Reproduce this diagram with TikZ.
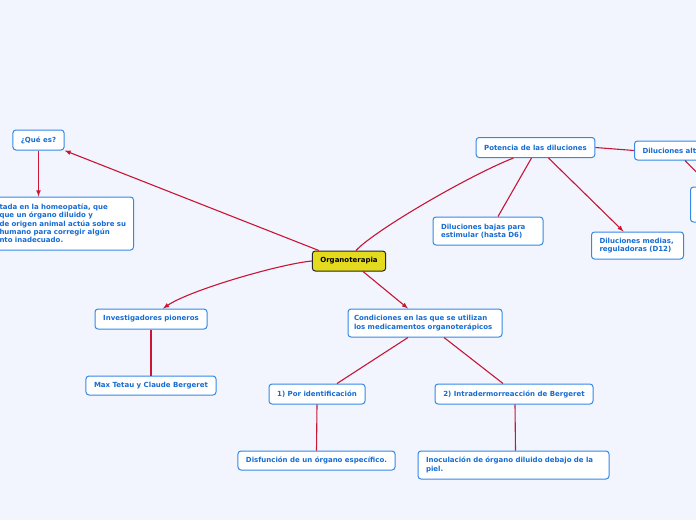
\documentclass[tikz,border=0pt]{standalone}
\usepackage{fontspec}
\setmainfont{DejaVu Sans}
\usepackage{xcolor}
\usepackage{tikz}
\usetikzlibrary{calc, positioning}

\definecolor{fondo}{RGB}{242,245,254}
\definecolor{borde}{RGB}{52,136,230}
\definecolor{texto}{RGB}{22,108,210}
\definecolor{rama}{RGB}{200,22,52}
\definecolor{raizfondo}{RGB}{228,218,30}

\begin{document}
\begin{tikzpicture}[>=latex, x=1pt, y=-1pt,
    idea/.style={draw=borde, fill=white, rounded corners=3pt, line width=1pt,
        text=texto, font=\bfseries\fontsize{7}{8.3}\selectfont,
        inner xsep=8pt, inner ysep=4pt, align=left, minimum height=20pt},
    raiz/.style={idea, fill=raizfondo, draw=black!85, text=black},
    enlace/.style={draw=rama, line width=1.1pt}]
    % 1. Fondo y recorte
    \useasboundingbox (0,0) rectangle (696,520);
    \fill[fondo] (0,0) rectangle (696,520);
    \clip (0,0) rectangle (696,520);

    % 2. Nodos
    \node[raiz, minimum width=72pt] (org) at (349,261) {Organoterapia};
    \node[idea] (quees) at (38.5,140) {¿Qué es?};
    \node[idea, anchor=west, text width=131pt, inner xsep=3pt, minimum height=53pt]
        (defin) at (-4,223.5)
        {tada en la homeopatía, que\\que un órgano diluido y\\de origen animal actúa sobre su\\humano para corregir algún\\nto inadecuado.};
    \node[idea, minimum width=117pt] (poten) at (535.5,147.5) {Potencia de las diluciones};
    \node[idea, anchor=west, text width=70pt, minimum height=19pt] (altas) at (634,150.5) {Diluciones alt};
    \node[idea, anchor=west, minimum width=40pt, minimum height=35pt] (oculto) at (690,204.5) {};
    \node[idea, text width=94pt, minimum height=28pt] (bajas) at (488,231) {Diluciones bajas para\\estimular (hasta D6)};
    \node[idea, text width=76pt, minimum height=27pt] (medias) at (637.5,245.5) {Diluciones medias,\\reguladoras (D12)};
    \node[idea, minimum width=112pt] (invest) at (151,319) {Investigadores pioneros};
    \node[idea, minimum width=128pt, minimum height=19pt] (max) at (151,385.5) {Max Tetau y Claude Bergeret};
    \node[idea, text width=142pt, inner xsep=6pt, minimum height=28pt] (condic) at (425,323) {Condiciones en las que se utilizan\\los medicamentos organoterápicos};
    \node[idea, minimum width=96pt] (ident) at (317,394) {1) Por identificación};
    \node[idea, minimum width=158pt] (intra) at (514,394) {2) Intradermorreacción de Bergeret};
    \node[idea, minimum width=155pt, minimum height=19pt] (disf) at (316.5,460.5) {Disfunción de un órgano específico.};
    \node[idea, text width=175pt, minimum height=28pt] (inoc) at (513.5,465) {Inoculación de órgano diluido debajo de la\\piel.};

    % 3. Ramas
    \draw[enlace, ->] ($(org.north west)+(7,0)$) -- (quees.south east);
    \draw[enlace, ->] (quees.south) -- (defin.north -| quees.south);
    \draw[enlace, ->] (org.west) .. controls (280,264) and (190,290) .. ($(invest.north)+(12,0)$);
    \draw[enlace, ->] ($(org.south)+(14,0)$) -- ($(condic.north)+(-17,0)$);
    \draw[enlace] ($(org.north)+(7,0)$) .. controls (375,230) and (470,175) .. ($(poten.south)+(-22,0)$);
    \draw[enlace] ($(poten.south)+(-4,0)$) -- ($(bajas.north)+(10,0)$);
    \draw[enlace, ->] ($(poten.south)+(13,0)$) -- ($(medias.north)+(-14,0)$);
    \draw[enlace] (poten.east) -- (altas.west);
    \draw[enlace] ($(altas.south west)+(51,0)$) -- (oculto.north);
    \draw[enlace] (invest.south) -- (max.north);
    \draw[enlace] ($(condic.south)+(-17,0)$) -- ($(ident.north)+(20,0)$);
    \draw[enlace] ($(condic.south)+(19,0)$) -- ($(intra.north)+(-11,0)$);
    \draw[enlace] (ident.south) -- (disf.north);
    \draw[enlace] ($(intra.south)+(1,0)$) -- ($(inoc.north)+(2,0)$);
\end{tikzpicture}
\end{document}
